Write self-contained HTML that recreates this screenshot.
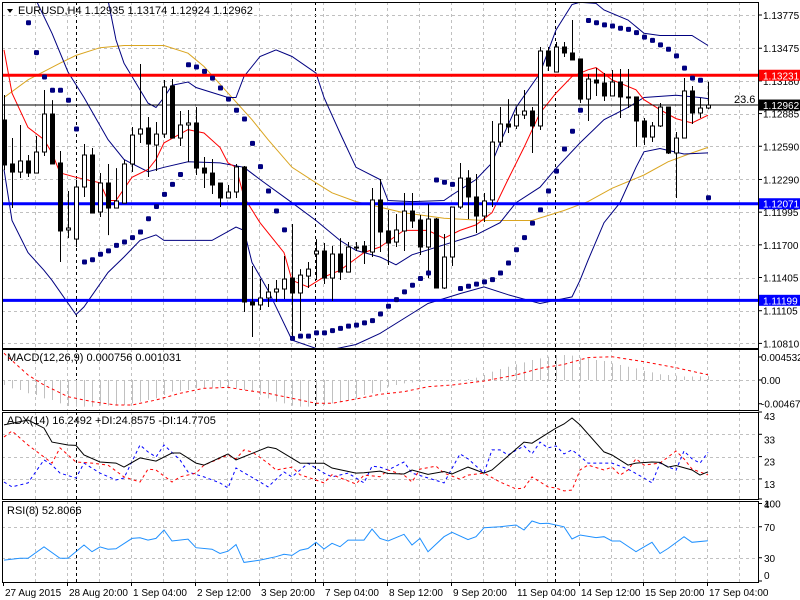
<!DOCTYPE html>
<html><head><meta charset="utf-8">
<style>
html,body{margin:0;padding:0;background:#fff;}
#wrap{position:relative;width:800px;height:600px;overflow:hidden;background:#fff;font-family:"Liberation Sans",sans-serif;}
svg text{font-family:"Liberation Sans",sans-serif;}
</style></head>
<body>
<div id="wrap">
<svg id="chart" width="800" height="600" xmlns="http://www.w3.org/2000/svg"></svg>
</div>
<script>
// ---------- DATA ----------
const opens = [1.12827,1.12430,1.12357,1.12457,1.12348,1.12538,1.12881,1.12439,1.11834,1.11752,
1.12222,1.12511,1.11996,1.12258,1.12032,1.12077,1.12430,1.12700,1.12755,1.12601,
1.12700,1.13134,1.12664,1.12782,1.12800,1.12393,1.12348,1.12258,1.12123,1.12177,
1.12403,1.11184,1.11157,1.11220,1.11274,1.11301,1.11400,1.11265,1.11418,1.11617,
1.11644,1.11400,1.11617,1.11454,1.11680,1.11689,1.11635,1.12105,1.11825,1.11725,
1.11825,1.12005,1.11924,1.11680,1.11933,1.11310,1.11590,1.12041,1.12303,1.12132,
1.11960,1.12105,1.12628,1.12791,1.12773,1.12872,1.12908,1.12773,1.13450,1.13260,
1.13486,1.13432,1.13378,1.13016,1.13188,1.13161,1.13044,1.13170,1.13035,1.13035,
1.12818,1.12673,1.12773,1.12944,1.12529,1.12664,1.13089,1.12890,1.12935];
const highs = [1.13053,1.12664,1.12782,1.12511,1.12682,1.13098,1.13007,1.12547,1.12186,1.12285,
1.12610,1.12574,1.12348,1.12430,1.12393,1.12466,1.12764,1.13333,1.12854,1.12809,
1.13188,1.13197,1.12908,1.12917,1.12944,1.12493,1.12475,1.12258,1.12240,1.12430,
1.12412,1.11509,1.11391,1.11346,1.11382,1.11599,1.11888,1.11481,1.11545,1.11752,
1.11716,1.11689,1.11761,1.11725,1.11725,1.11734,1.12213,1.12294,1.12014,1.11978,
1.12168,1.12168,1.11969,1.12068,1.11942,1.11798,1.12041,1.12439,1.12375,1.12339,
1.12168,1.12818,1.12944,1.13016,1.12944,1.13098,1.12944,1.13486,1.13486,1.13531,
1.13531,1.13730,1.13378,1.13242,1.13296,1.13251,1.13278,1.13287,1.13287,1.13035,
1.12845,1.12809,1.12980,1.12944,1.12719,1.13206,1.13134,1.13026,1.13174];
const lows = [1.12375,1.12032,1.12303,1.12312,1.12348,1.12502,1.12430,1.11545,1.11761,1.11680,
1.12132,1.11987,1.11951,1.11788,1.12032,1.12077,1.12357,1.12619,1.12312,1.12366,
1.12664,1.12664,1.12592,1.12448,1.12330,1.12213,1.12159,1.12041,1.12123,1.12123,
1.11093,1.10868,1.11112,1.11139,1.11184,1.11211,1.10840,1.10922,1.11310,1.11382,
1.11346,1.11193,1.11382,1.11454,1.11644,1.11527,1.11590,1.11635,1.11518,1.11680,
1.11644,1.11852,1.11608,1.11400,1.11310,1.11301,1.11509,1.12023,1.11933,1.11807,
1.11906,1.12041,1.12583,1.12710,1.12746,1.12836,1.12529,1.12737,1.13269,1.13260,
1.13396,1.13369,1.12980,1.12818,1.13044,1.12998,1.13044,1.12845,1.12935,1.12583,
1.12601,1.12628,1.12764,1.12520,1.12123,1.12664,1.12791,1.12845,1.12924];
const closes = [1.12421,1.12357,1.12457,1.12348,1.12538,1.12881,1.12430,1.11825,1.11852,1.12222,
1.12511,1.11987,1.12258,1.12032,1.12096,1.12430,1.12691,1.12746,1.12610,1.12700,
1.13125,1.12664,1.12782,1.12800,1.12393,1.12348,1.12240,1.12123,1.12177,1.12403,
1.11184,1.11157,1.11220,1.11274,1.11301,1.11391,1.11265,1.11427,1.11481,1.11644,
1.11400,1.11617,1.11454,1.11680,1.11680,1.11635,1.12105,1.11816,1.11716,1.11834,
1.12005,1.11915,1.11680,1.11933,1.11310,1.11590,1.12041,1.12303,1.12132,1.11960,
1.12096,1.12628,1.12791,1.12764,1.12872,1.12908,1.12773,1.13450,1.13314,1.13486,
1.13432,1.13369,1.13016,1.13197,1.13161,1.13044,1.13170,1.13035,1.13035,1.12818,
1.12673,1.12773,1.12944,1.12529,1.12664,1.13089,1.12890,1.12935,1.12962];

// Bollinger bands (sampled at bar indices)
const bbUpperIdx = [13,14,15,18,19,20,21,23,24,28,29,30,32,34,36,39,40,42,44,47,48,51,55,56,59,61,62,64,67,69,71,72,74,75,78,80,82,86,88];
const bbUpperVal = [1.1391,1.1355,1.1334,1.1298,1.1294,1.1303,1.1314,1.1317,1.1312,1.1303,1.1303,1.1322,1.1340,1.1346,1.1340,1.1325,1.1303,1.1271,1.1240,1.1229,1.1210,1.1209,1.1210,1.1215,1.1229,1.1244,1.1262,1.1294,1.1325,1.1364,1.1387,1.1389,1.1388,1.1382,1.1373,1.1361,1.1359,1.1359,1.1350];
const bbMidIdx = [4,6,8,10,13,15,18,20,23,27,30,32,36,39,42,44,47,49,51,55,59,62,64,67,69,72,75,78,80,84,87,88];
const bbMidVal = [1.1391,1.1361,1.1326,1.1303,1.1265,1.1247,1.1236,1.1240,1.1245,1.1244,1.1240,1.1229,1.1208,1.1192,1.1174,1.1165,1.1159,1.1152,1.1161,1.1170,1.1179,1.1190,1.1208,1.1222,1.1239,1.1262,1.1283,1.1294,1.1303,1.1305,1.1303,1.1302];
const bbLowIdx = [0,1,3,5,6,9,10,13,15,17,19,20,26,29,30,31,33,36,40,44,47,51,53,57,60,63,67,71,72,73,75,77,79,80,82,85,88];
const bbLowVal = [1.1238,1.1192,1.1163,1.1147,1.1138,1.1107,1.1114,1.1145,1.1159,1.1174,1.1179,1.1174,1.1174,1.1186,1.1183,1.1154,1.1129,1.1084,1.1074,1.1080,1.1090,1.1108,1.1117,1.1126,1.1132,1.1125,1.1117,1.1123,1.1138,1.1156,1.1190,1.1208,1.1240,1.1254,1.1257,1.1252,1.1253];
// fast MA (red)
const maFastIdx = [0,1,3,5,6,7,9,12,13,14,16,18,19,20,23,25,27,28,29,30,32,35,36,38,40,42,45,47,50,53,55,57,59,61,63,65,67,69,71,73,74,76,79,80,82,84,86,88];
const maFastVal = [1.1346,1.1307,1.1276,1.1265,1.1253,1.1235,1.1231,1.1226,1.1210,1.1210,1.1231,1.1238,1.1247,1.1262,1.1274,1.1271,1.1258,1.1244,1.1240,1.1213,1.1190,1.1163,1.1138,1.1132,1.1141,1.1147,1.1163,1.1168,1.1183,1.1183,1.1176,1.1183,1.1188,1.1199,1.1229,1.1258,1.1289,1.1307,1.1322,1.1328,1.1330,1.1319,1.1310,1.1301,1.1292,1.1284,1.1280,1.1287];
// slow MA (orange)
const maSlowIdx = [0,3,7,9,12,15,20,23,25,28,31,33,36,39,41,44,47,50,55,60,66,70,73,76,80,83,86,88];
const maSlowVal = [1.1303,1.1319,1.1334,1.1341,1.1348,1.1350,1.1350,1.1343,1.1331,1.1307,1.1283,1.1265,1.1240,1.1226,1.1217,1.1209,1.1204,1.1199,1.1194,1.1192,1.1192,1.1201,1.1209,1.1221,1.1233,1.1245,1.1253,1.1258];
// Parabolic SAR (starts at bar 3)
const sarStart = 3;
const sarVal = [1.1371,1.1344,1.1322,1.1310,1.1310,1.1301,1.1275,1.1155,1.1157,1.1162,
1.1165,1.1170,1.1173,1.1177,1.1182,1.1194,1.1205,1.1216,1.1225,1.1234,
1.1333,1.1331,1.1327,1.1321,1.1312,1.1302,1.1292,1.1284,1.1262,1.1241,
1.1219,1.1201,1.1184,1.1086,1.1088,1.1088,1.1091,1.1091,1.1093,1.1095,
1.1097,1.1098,1.1100,1.1102,1.1108,1.1115,1.1121,1.1128,1.1134,1.1140,
1.1145,1.1229,1.1227,1.1225,1.1131,1.1133,1.1135,1.1137,1.1139,1.1145,
1.1154,1.1166,1.1177,1.1190,1.1202,1.1219,1.1237,1.1257,1.1273,1.1292,
1.1373,1.1371,1.1369,1.1368,1.1366,1.1365,1.1362,1.1358,1.1355,1.1351,
1.1347,1.1341,1.1330,1.1321,1.1319,1.1213];
// horizontal levels
const levelRed = 1.13231;
const levelBlue1 = 1.12071;
const levelBlue2 = 1.11199;
const lastBid = 1.12962;
const priceTicks = [1.13775,1.13475,1.13180,1.12885,1.12590,1.12290,1.11995,1.11700,1.11405,1.11105,1.10810];
const priceTickLabels = ["1.13775","1.13475","1.13180","1.12885","1.12590","1.12290","1.11995","1.11700","1.11405","1.11105","1.10810"];

// MACD
const macdHist = [-0.00098,-0.00164,-0.00197,-0.00262,-0.00295,-0.00361,-0.00394,-0.00459,-0.00512,-0.00525,
-0.00525,-0.00525,-0.00505,-0.00505,-0.00505,-0.00492,-0.00459,-0.00426,-0.00394,-0.00361,
-0.00295,-0.00230,-0.00217,-0.00197,-0.00164,-0.00151,-0.00151,-0.00151,-0.00164,-0.00164,
-0.00197,-0.00230,-0.00295,-0.00361,-0.00426,-0.00459,-0.00505,-0.00525,-0.00525,-0.00505,
-0.00492,-0.00459,-0.00426,-0.00394,-0.00361,-0.00295,-0.00262,-0.00230,-0.00131,-0.00098,
-0.00066,-0.00050,-0.00033,-0.00020,-0.00013,-0.00007,0.00000,0.00007,0.00020,0.00046,
0.00098,0.00164,0.00216,0.00262,0.00308,0.00348,0.00394,0.00426,0.00459,0.00492,
0.00492,0.00479,0.00440,0.00426,0.00394,0.00374,0.00328,0.00295,0.00262,0.00230,
0.00177,0.00151,0.00112,0.00098,0.00085,0.00070,0.00070,0.00072,0.00076];
const macdSigIdx = [0,3,5,8,11,14,16,19,22,25,28,30,33,36,39,41,44,47,50,53,56,60,64,67,70,73,76,80,84,88];
const macdSigVal = [0.00525,0.00098,-0.00098,-0.00328,-0.00426,-0.00492,-0.00492,-0.00394,-0.00262,-0.00164,-0.00144,-0.00197,-0.00262,-0.00361,-0.00459,-0.00459,-0.00374,-0.00282,-0.00230,-0.00131,-0.00098,-0.00020,0.00098,0.00230,0.00308,0.00440,0.00459,0.00361,0.00243,0.00103];
const macdTicks = [0.004532,0,-0.004671];
const macdTickLabels = ["0.004532","0.00","-0.004671"];

// ADX
const adxIdx = [0,3,5,6,8,9,10,12,14,15,17,19,21,22,24,25,28,29,33,34,37,40,41,44,45,47,48,50,51,53,55,56,58,60,61,65,66,69,70,71,72,75,76,78,79,81,82,83,84,86,87,88];
const adxVal = [37.2,39.4,35.8,29.5,28.2,28,23.7,20.6,20.1,18.3,22.4,21,24.6,24.6,20.1,19.2,24.2,21.5,27.3,26.6,20.1,20,17.9,15.6,15.8,16.5,15.4,15.2,17,15,16.3,15.2,18.3,15.6,17,29.5,29,35.8,37.6,40.3,37.2,25.1,23.7,19.2,20.1,20.6,20.4,18.3,19,17,14.7,16.2];
const pdiIdx = [0,1,3,5,6,7,9,10,12,14,15,17,18,19,20,22,23,25,27,28,29,32,33,35,36,38,40,41,43,45,46,47,48,50,51,55,57,58,60,61,62,63,65,66,67,68,69,70,71,72,73,75,76,78,80,81,82,84,85,86,87,88];
const pdiVal = [11.6,9.4,11.2,21.5,19.2,15.6,13.4,20.1,15.6,12.5,13.4,28.2,25.1,22.8,28.2,21.5,16.1,13.9,11.2,8.9,17.9,11.6,9.4,16.1,13.9,20,15.6,13.9,15.6,11.2,18.7,18.3,17,20.6,15.6,11.2,24.2,22,15.6,26,26,23.7,27.8,24.2,29.5,26.9,27.8,24.2,26,23.2,20.1,20.1,20.1,17.4,13.4,11.2,20.1,16.9,25.5,22,20.1,24.9];
const mdiIdx = [0,1,3,5,6,7,8,9,11,13,15,17,18,19,21,22,24,25,28,29,30,31,33,34,36,37,39,40,41,44,45,47,48,50,51,52,54,55,57,58,60,62,64,65,66,68,69,70,71,72,73,75,76,77,78,79,80,82,84,85,86,88];
const mdiVal = [31.8,34.5,28.2,22.8,20.1,26.9,23.7,20.6,20.1,19.2,13.9,11.6,17.4,17,11.6,13.9,15.6,19.2,23.7,22,26,25.1,20.1,17,18.3,14.9,12.5,11.2,14.9,10.7,14.7,14,17,14.7,11.6,17.4,18.7,15.6,12.9,14.7,15.6,11.6,8.5,8.9,13.9,9.4,8.9,7.6,8,17,19.2,17,18.3,14.7,17,22,19.2,20.1,25.5,22,17.4,14.8];
const adxTicks = [43,33,23,13,4];

// RSI
const rsiIdx = [0,2,3,5,7,8,10,11,12,13,14,16,17,18,19,20,21,23,24,26,27,28,29,30,32,34,35,36,37,38,39,40,41,42,43,45,46,47,48,50,51,52,53,55,56,58,59,60,62,64,65,66,67,68,70,71,72,74,75,76,77,79,80,81,82,83,85,86,88];
const rsiVal = [27,29.3,29.3,44,29.3,29.3,46.5,37.8,44,41,41.5,55,55.8,52.8,55,65.8,51.6,54,43,41,35.5,38.5,47,24,27,31.4,34.4,33,39.8,41.9,49.9,41.3,48.6,44.3,52.8,52.8,67,55,51.6,60.2,46.5,55,37.8,57.2,62.8,53.4,57.2,68.8,70.1,72.3,65.8,77.4,74,74.6,70,54.2,59.3,56,57.2,51.6,51.6,37.8,44,50,35.5,42,57.2,50,52];
const rsiTicks = [100,70,30,0];

// time axis
const timeLabels = ["27 Aug 2015","28 Aug 20:00","1 Sep 04:00","2 Sep 12:00","3 Sep 20:00","7 Sep 04:00","8 Sep 12:00","9 Sep 20:00","11 Sep 04:00","14 Sep 12:00","15 Sep 20:00","17 Sep 04:00"];
const timeLabelBars = [0,8,16,24,32,40,48,56,64,72,80,88];

// ---------- SCALES ----------
const L = 2, R = 758;
const main = {top:2, bottom:348};
const pMACD = {top:349, bottom:410};
const pADX = {top:412, bottom:499};
const pRSI = {top:501, bottom:582};
const xOf = i => 4 + 8*i;
const yMain = p => 15 + (1.13775 - p) * 11076;
const yMACD = v => 380 - v * 5080;
const yADX = v => 412 + (43 - v) * 2.23;
const yRSI = v => 581 - v * 0.775;

const NS = "http://www.w3.org/2000/svg";
const svg = document.getElementById("chart");
function mk(tag, attrs, parent){
  const e = document.createElementNS(NS, tag);
  for (const k in attrs) e.setAttribute(k, attrs[k]);
  (parent || svg).appendChild(e);
  return e;
}
function addText(str, x, y, attrs, parent){
  const t = mk("text", Object.assign({x:x, y:y, "font-size":"11", fill:"#000"}, attrs||{}), parent);
  t.textContent = str;
  return t;
}

// clip paths
const defs = mk("defs", {});
[["clipMain",main],["clipMACD",pMACD],["clipADX",pADX],["clipRSI",pRSI]].forEach(([id,p])=>{
  const cp = mk("clipPath",{id:id},defs);
  mk("rect",{x:L+1,y:p.top+1,width:R-L-1,height:p.bottom-p.top-1},cp);
});

// ---------- GRID ----------
const grid = mk("g", {});


const panels = [main,pMACD,pADX,pRSI];
panels.forEach(p=>{
  for (let gx = 35; gx < R; gx += 32) {
    mk("line",{x1:gx+0.5,x2:gx+0.5,y1:p.top,y2:p.bottom,stroke:"#c0c0c0","stroke-dasharray":"3,3"},grid);
  }
  [76,315,555].forEach(sx=>{
    mk("line",{x1:sx+0.5,x2:sx+0.5,y1:p.top,y2:p.bottom,stroke:"#000","stroke-dasharray":"3,3"},grid);
  });
});
priceTicks.forEach(p=>{
  const y = Math.round(yMain(p))+0.5;
  mk("line",{x1:L,x2:R,y1:y,y2:y,stroke:"#c0c0c0","stroke-dasharray":"3,3"},grid);
});
mk("line",{x1:L,x2:R,y1:380.5,y2:380.5,stroke:"#c0c0c0","stroke-dasharray":"3,3"},grid);
[33,23,13].forEach(v=>{
  const y = Math.round(yADX(v))+0.5;
  mk("line",{x1:L,x2:R,y1:y,y2:y,stroke:"#c0c0c0","stroke-dasharray":"3,3"},grid);
});
[70,30].forEach(v=>{
  const y = Math.round(yRSI(v))+0.5;
  mk("line",{x1:L,x2:R,y1:y,y2:y,stroke:"#c0c0c0","stroke-dasharray":"3,3"},grid);
});

// ---------- MAIN PANEL ----------
const gMain = mk("g", {"clip-path":"url(#clipMain)"});



function polyline(idx, vals, yf, parent, attrs, name){
  const pts = idx.map((b,k)=> xOf(b).toFixed(1)+","+yf(vals[k]).toFixed(1)).join(" ");
  const pl = mk("polyline", Object.assign({points:pts, fill:"none"}, attrs), parent);
  
  
  return pl;
}
polyline(maSlowIdx, maSlowVal, yMain, gMain, {stroke:"#daa520","stroke-width":1}, "slow-moving-average");
polyline(bbUpperIdx, bbUpperVal, yMain, gMain, {stroke:"#000080","stroke-width":1}, "bollinger-upper");
polyline(bbMidIdx, bbMidVal, yMain, gMain, {stroke:"#000080","stroke-width":1}, "bollinger-middle");
polyline(bbLowIdx, bbLowVal, yMain, gMain, {stroke:"#000080","stroke-width":1}, "bollinger-lower");
polyline(maFastIdx, maFastVal, yMain, gMain, {stroke:"#ff0000","stroke-width":1}, "fast-moving-average");

// horizontal levels
function hline(p, color, w, name){
  const y = yMain(p);
  const l = mk("line",{x1:L,x2:R,y1:y,y2:y,stroke:color,"stroke-width":w},gMain);
  
  
}
hline(lastBid, "#000", 1, "bid-price-line");
hline(levelRed, "#ff0000", 3, "resistance-line");
hline(levelBlue1, "#0000ff", 3, "support-line-1");
hline(levelBlue2, "#0000ff", 3, "support-line-2");

// candles
for (let i = 0; i < opens.length; i++) {
  const x = xOf(i);
  const g = mk("g",{},gMain);
  
  
  mk("line",{x1:x+0.5,x2:x+0.5,y1:yMain(highs[i]),y2:yMain(lows[i]),stroke:"#000","stroke-width":1},g);
  const up = closes[i] >= opens[i];
  const yt = Math.min(yMain(opens[i]),yMain(closes[i]));
  const h = Math.max(1, Math.abs(yMain(opens[i])-yMain(closes[i])));
  mk("rect",{x:x-1.5,y:yt,width:4,height:h,fill:up?"#fff":"#000",stroke:"#000","stroke-width":1},g);
}
// SAR dots
for (let k = 0; k < sarVal.length; k++) {
  const d = mk("rect",{x:xOf(sarStart+k)-2,y:yMain(sarVal[k])-2,width:5,height:5,rx:1.2,fill:"#000080"},gMain);
  
  
}
addText("23.6", 734, 103, {"font-size":"11"}, gMain);

// header
const hdr = mk("g",{});


mk("polygon",{points:"7,9 13,9 10,13",fill:"#000"},hdr);
addText("EURUSD,H4  1.12935 1.13174 1.12924 1.12962", 18, 14, {"font-size":"11"}, hdr);

// ---------- MACD ----------
const gMacd = mk("g",{"clip-path":"url(#clipMACD)"});


for (let i = 0; i < macdHist.length; i++) {
  const x = xOf(i)+0.5;
  const b = mk("line",{x1:x,x2:x,y1:yMACD(0),y2:yMACD(macdHist[i]),stroke:"#c0c0c0","stroke-width":1},gMacd);
  
  
}
polyline(macdSigIdx, macdSigVal, yMACD, gMacd, {stroke:"#ff0000","stroke-dasharray":"3,3"}, "macd-signal-line");
addText("MACD(12,26,9) 0.000756 0.001031", 7, 361, {"font-size":"11"});

// ---------- ADX ----------
const gAdx = mk("g",{"clip-path":"url(#clipADX)"});


polyline(pdiIdx, pdiVal, yADX, gAdx, {stroke:"#0000ff","stroke-dasharray":"3,3"}, "plus-di-line");
polyline(mdiIdx, mdiVal, yADX, gAdx, {stroke:"#ff0000","stroke-dasharray":"3,3"}, "minus-di-line");
polyline(adxIdx, adxVal, yADX, gAdx, {stroke:"#000"}, "adx-line");
addText("ADX(14) 16.2492 +DI:24.8575 -DI:14.7705", 7, 424, {"font-size":"11"});

// ---------- RSI ----------
const gRsi = mk("g",{"clip-path":"url(#clipRSI)"});


polyline(rsiIdx, rsiVal, yRSI, gRsi, {stroke:"#1e90ff"}, "rsi-line");
addText("RSI(8) 52.8066", 7, 514, {"font-size":"11"});

// ---------- BORDERS ----------
panels.forEach(p=>{
  mk("rect",{x:L+0.5,y:p.top+0.5,width:R-L,height:p.bottom-p.top,fill:"none",stroke:"#000","stroke-width":1});
});

// ---------- AXES ----------
const ax = mk("g",{});


priceTicks.forEach((p,k)=>{
  const y = yMain(p);
  mk("line",{x1:R,x2:R+4,y1:y,y2:y,stroke:"#000"},ax);
  addText(priceTickLabels[k], 763, y+4, {"font-size":"10"}, ax);
});
function priceBox(p, color, label, name){
  const y = yMain(p);
  const g = mk("g",{});
  
  
  mk("rect",{x:759,y:y-5.5,width:41,height:11,fill:color},g);
  addText(label, 763, y+4, {"font-size":"10", fill:"#fff"}, g);
}
priceBox(levelRed, "#ff0000", "1.13231", "resistance-price-label");
priceBox(lastBid, "#000000", "1.12962", "bid-price-label");
priceBox(levelBlue1, "#0000ff", "1.12071", "support-1-price-label");
priceBox(levelBlue2, "#0000ff", "1.11199", "support-2-price-label");

macdTicks.forEach((v,k)=>{
  const y = yMACD(v);
  mk("line",{x1:R,x2:R+4,y1:y,y2:y,stroke:"#000"},ax);
  addText(macdTickLabels[k], 761, y+4, {"font-size":"10"}, ax);
});
adxTicks.forEach(v=>{
  const y = yADX(v);
  mk("line",{x1:R,x2:R+4,y1:y,y2:y,stroke:"#000"},ax);
  addText(String(v), 764, y+ (v===43?8:9), {"font-size":"10"}, ax);
});
rsiTicks.forEach(v=>{
  const y = yRSI(v);
  mk("line",{x1:R,x2:R+4,y1:y,y2:y,stroke:"#000"},ax);
  addText(String(v), 764, y+ (v===0?-2:4), {"font-size":"10"}, ax);
});

const tax = mk("g",{});


timeLabels.forEach((s,k)=>{
  const x = xOf(timeLabelBars[k]) - 1;
  mk("line",{x1:x+0.5,x2:x+0.5,y1:582,y2:586,stroke:"#000"},tax);
  addText(s, x+2, 596, {"font-size":"10"}, tax);
});
</script>
</body></html>
